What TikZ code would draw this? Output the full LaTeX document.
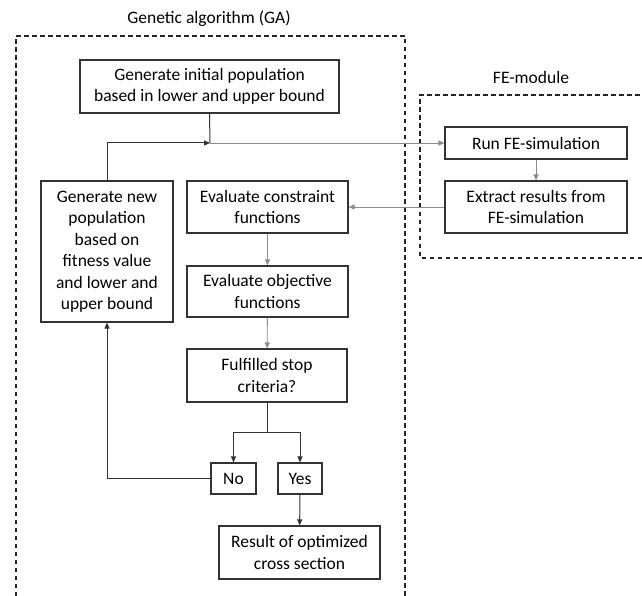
\documentclass[tikz,border=0pt]{standalone}
\usepackage{fontspec}
\setmainfont{Carlito}
\usetikzlibrary{arrows.meta}
\begin{document}
\begin{tikzpicture}[x=1pt, y=-1pt,
  blk/.style={draw=black!80, line width=1.1pt, align=center, inner sep=0pt,
    font=\fontsize{17.5}{21.5}\selectfont},
  arr/.style={-{Triangle[length=6pt,width=5pt]}, line width=1pt, draw=black!80},
  arrg/.style={arr, draw=black!45, line width=0.9pt},
  frame/.style={dashed, dash pattern=on 4.5pt off 3.5pt, line width=1.1pt, draw=black!85}]

  \useasboundingbox (0,0) rectangle (642,596);

  %% dashed frames
  \draw[frame] (16,596) -- (16,36) -- (405,36) -- (405,596);
  \draw[frame] (642,258) -- (420,258) -- (420,95) -- (642,95);
  \node[font=\fontsize{17.5}{21}\selectfont] (gatitle) at (209,19) {Genetic algorithm (GA)};
  \node[font=\fontsize{17.5}{21}\selectfont] (fetitle) at (531,77) {FE-module};

  %% GA boxes
  \node[blk, minimum width=259pt, minimum height=53pt] (init) at (209.5,86.5)
    {Generate initial population\\based in lower and upper bound};
  \node[blk, minimum width=132pt, minimum height=141pt] (newpop) at (107,251.5)
    {Generate new\\population\\based on\\fitness value\\and lower and\\upper bound};
  \node[blk, minimum width=161pt, minimum height=52pt] (constr) at (267.5,207)
    {Evaluate constraint\\functions};
  \node[blk, minimum width=161pt, minimum height=51pt] (obj) at (267.5,291.5)
    {Evaluate objective\\functions};
  \node[blk, minimum width=160pt, minimum height=53pt] (stop) at (267,375.5)
    {Fulfilled stop\\criteria?};
  \node[blk, minimum width=45pt, minimum height=31pt] (no) at (233.5,478.5) {No};
  \node[blk, minimum width=44pt, minimum height=31pt] (yes) at (300,478.5) {Yes};
  \node[blk, minimum width=161pt, minimum height=53pt] (result) at (299.5,552.5)
    {Result of optimized\\cross section};

  %% FE boxes
  \node[blk, minimum width=182pt, minimum height=32pt] (run) at (536,143) {Run FE-simulation};
  \node[blk, minimum width=182pt, minimum height=52pt] (extract) at (536,207)
    {Extract results from\\FE-simulation};

  \coordinate (join) at (210,143);
  \coordinate (split) at (267,432);

  %% connectors
  \draw[line width=1pt, draw=black!80] (init.south) -- (join);
  \draw[arr] (newpop.north) |- (join);
  \draw[arrg] (join) -- (run.west);
  \draw[arrg] (run) -- (extract);
  \draw[arrg] (extract.west) -- (constr.east);
  \draw[arrg] (constr) -- (obj);
  \draw[arrg] (obj) -- (stop);
  \draw[line width=1pt, draw=black!80] (stop.south) -- (split);
  \draw[arr] (split) -| (no.north);
  \draw[arr] (split) -| (yes.north);
  \draw[arr] (no.west) -| (newpop.south);
  \draw[arr] (yes) -- (result);

\end{tikzpicture}
\end{document}
